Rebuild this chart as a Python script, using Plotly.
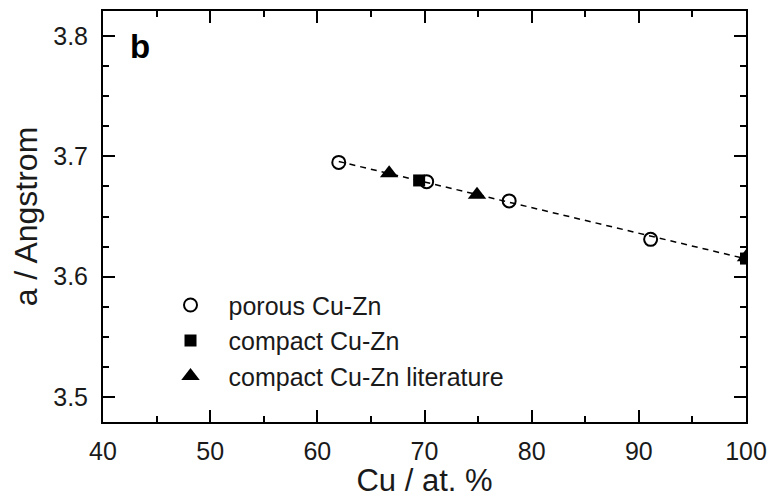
import numpy as np
import plotly.graph_objects as go

# Data
porous_cu = [62.0, 70.2, 77.9, 91.1]
porous_a = [3.695, 3.679, 3.663, 3.631]
compact_cu = [69.5, 100.0]
compact_a = [3.680, 3.615]
lit_cu = [66.7, 74.9, 100.0]
lit_a = [3.686, 3.668, 3.616]

all_x = np.array(porous_cu + compact_cu + lit_cu)
all_y = np.array(porous_a + compact_a + lit_a)
slope, intercept = np.polyfit(all_x, all_y, 1)
fit_x = np.array([min(all_x), max(all_x)])
fit_y = slope * fit_x + intercept

FONT = "Liberation Sans, Arial, sans-serif"
TXT = "#1a1a1a"

fig = go.Figure()
fig.add_trace(go.Scatter(x=fit_x, y=fit_y, mode="lines",
                         line=dict(color="black", width=1.5, dash="6px,5px"),
                         showlegend=False, hoverinfo="skip"))
fig.add_trace(go.Scatter(x=porous_cu, y=porous_a, mode="markers", name="porous Cu-Zn",
                         marker=dict(symbol="circle-open", size=13, color="black",
                                     line=dict(width=2, color="black"))))
fig.add_trace(go.Scatter(x=compact_cu, y=compact_a, mode="markers", name="compact Cu-Zn",
                         marker=dict(symbol="square", size=12, color="black")))
fig.add_trace(go.Scatter(x=lit_cu, y=lit_a, mode="markers", name="compact Cu-Zn literature",
                         marker=dict(symbol="triangle-up", size=16, color="black")))

axis_common = dict(
    showgrid=False, zeroline=False, showline=True, linecolor="black", linewidth=2,
    mirror="ticks", ticks="inside", ticklen=12, tickwidth=2, tickcolor="black",
    tickfont=dict(family=FONT, size=25, color=TXT),
)
fig.update_xaxes(range=[40, 100], dtick=10, tick0=40,
                 minor=dict(ticks="inside", ticklen=6, tickwidth=2, dtick=5, tickcolor="black"),
                 title=dict(text="Cu / at. %", font=dict(family=FONT, size=31, color=TXT), standoff=2),
                 ticklabelstandoff=6,
                 **axis_common)
fig.update_yaxes(range=[3.479, 3.821], dtick=0.1, tick0=3.5, tickformat=".1f",
                 minor=dict(ticks="inside", ticklen=6, tickwidth=2, dtick=0.025, tickcolor="black"),
                 title=dict(text="a / Angstrom", font=dict(family=FONT, size=32, color=TXT), standoff=6),
                 ticklabelstandoff=8,
                 **axis_common)

fig.add_annotation(text="<b>b</b>", x=0.039, y=0.914, xref="paper", yref="paper",
                   xanchor="left", yanchor="middle", showarrow=False,
                   font=dict(family=FONT, size=33, color="black"))

fig.update_layout(
    width=776, height=498,
    margin=dict(l=103, r=28, t=9, b=69),
    plot_bgcolor="white", paper_bgcolor="white",
    legend=dict(x=0.077, y=0.34, xanchor="left", yanchor="top",
                font=dict(family=FONT, size=25, color=TXT), itemwidth=66,
                bgcolor="rgba(0,0,0,0)", tracegroupgap=0),
)
fig.write_html("out.html")
